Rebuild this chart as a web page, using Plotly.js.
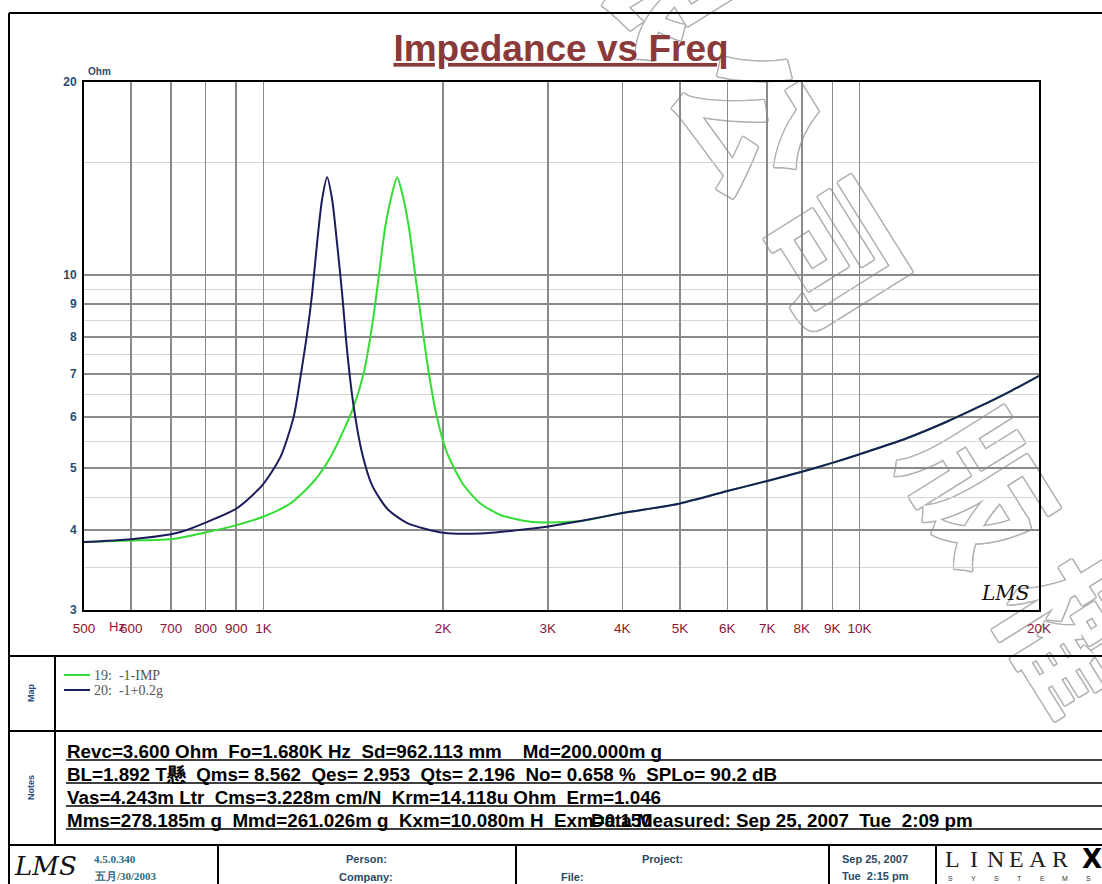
<!DOCTYPE html>
<html><head><meta charset="utf-8">
<script src="https://cdn.plot.ly/plotly-3.0.1.min.js"></script>
<style>html,body{margin:0;padding:0;background:#fff}</style>
</head><body><div id="chart" style="width:1102px;height:884px"></div>
<script>
// ---------------- data ----------------
const freqGreen = [500, 600, 700, 726, 796, 901, 996, 1110, 1214, 1296, 1364, 1417, 1473, 1521, 1561, 1601, 1644, 1676, 1709, 1753, 1799, 1846, 1894, 1956, 2033, 2167, 2312, 2498, 2803, 3006, 3405, 4000, 5000, 6000, 7000, 8000, 9000, 10000, 12000, 14000, 16000, 18000, 20000];
const zGreen    = [3.83, 3.85, 3.87, 3.89, 3.96, 4.07, 4.19, 4.40, 4.76, 5.20, 5.73, 6.23, 7.03, 8.31, 9.94, 11.9, 13.4, 14.2, 13.4, 11.9, 9.94, 8.31, 7.03, 5.98, 5.27, 4.70, 4.40, 4.22, 4.12, 4.11, 4.13, 4.25, 4.40, 4.60, 4.77, 4.93, 5.09, 5.25, 5.56, 5.90, 6.25, 6.60, 6.96];
const freqBlue  = [500, 600, 700, 726, 796, 901, 996, 1068, 1124, 1154, 1184, 1207, 1230, 1254, 1279, 1304, 1329, 1355, 1381, 1417, 1464, 1521, 1612, 1743, 2005, 2312, 2626, 3006, 3405, 4000, 5000, 6000, 7000, 8000, 9000, 10000, 12000, 14000, 16000, 18000, 20000];
const zBlue     = [3.83, 3.87, 3.94, 3.97, 4.10, 4.32, 4.70, 5.20, 6.01, 6.94, 8.11, 9.36, 11.2, 13.1, 14.2, 13.1, 11.2, 9.36, 7.64, 6.23, 5.27, 4.70, 4.32, 4.10, 3.96, 3.95, 3.99, 4.05, 4.13, 4.25, 4.40, 4.60, 4.77, 4.93, 5.09, 5.25, 5.56, 5.90, 6.25, 6.60, 6.96];
const seriesNames = ['19:  -1-IMP', '20:  -1+0.2g'];

const xTickVals = [500, 600, 700, 800, 900, 1000, 2000, 3000, 4000, 5000, 6000, 7000, 8000, 9000, 10000, 20000];
const xTickText = ['500', '600', '700', '800', '900', '1K', '2K', '3K', '4K', '5K', '6K', '7K', '8K', '9K', '10K', '20K'];
const yTickVals = [3, 4, 5, 6, 7, 8, 9, 10, 20];
const yTickText = ['3', '4', '5', '6', '7', '8', '9', '10', '20'];
const yMinorVals = [3.5, 4.5, 5.5, 6.5, 7.5, 8.5, 9.5, 15];

const notesLines = [
  'Revc=3.600 Ohm  Fo=1.680K Hz  Sd=962.113 mm    Md=200.000m g',
  'BL=1.892 T懸  Qms= 8.562  Qes= 2.953  Qts= 2.196  No= 0.658 %  SPLo= 90.2 dB',
  'Vas=4.243m Ltr  Cms=3.228m cm/N  Krm=14.118u Ohm  Erm=1.046',
  'Mms=278.185m g  Mmd=261.026m g  Kxm=10.080m H  Exm=0.150'
];
const measuredText = 'Data Measured: Sep 25, 2007  Tue  2:09 pm';
const watermarkChars = ['限', '公', '司', '版', '權'];

// ---------------- geometry helpers ----------------
const L = 84, T = 82, W = 955, H = 528, FW = 1102, FH = 884;
const px = x => (x - L) / W;
const py = y => (T + H - y) / H;
const shapes = [];
const annotations = [];
function seg(x0, y0, x1, y1, w, c) {
  shapes.push({type: 'line', xref: 'paper', yref: 'paper', x0: px(x0), y0: py(y0), x1: px(x1), y1: py(y1),
    line: {width: w, color: c || '#000'}});
}
function txt(x, y, text, font, opts) {
  annotations.push(Object.assign({xref: 'paper', yref: 'paper', x: px(x), y: py(y), text: text,
    showarrow: false, xanchor: 'left', yanchor: 'middle', borderpad: 0, font: font}, opts || {}));
}

// watermark (outlined characters, under the grid and curves)
const wmPos = [[650, -15], [737, 125], [822, 262], [968, 495], [1060, 642]];
const wmEdge = '#b0b0b0';
watermarkChars.forEach((ch, i) => {
  const [cx, cy] = wmPos[i];
  shapes.push({type: 'rect', xref: 'paper', yref: 'paper', layer: 'below',
    x0: px(cx - 5), x1: px(cx + 5), y0: py(cy + 5), y1: py(cy - 5),
    line: {width: 0}, fillcolor: 'rgba(0,0,0,0)',
    label: {text: ch, textangle: 58, textposition: 'middle center',
      font: {family: 'Noto Sans CJK TC', size: 140, color: '#ffffff', weight: 'bold',
        shadow: `1.5px 0 0 ${wmEdge}, -1.5px 0 0 ${wmEdge}, 0 1.5px 0 ${wmEdge}, 0 -1.5px 0 ${wmEdge}, 1px 1px 0 ${wmEdge}, -1px -1px 0 ${wmEdge}, 1px -1px 0 ${wmEdge}, -1px 1px 0 ${wmEdge}`}}});
});

// frame
seg(9, 13, FW, 13, 2);
seg(9, 13, 9, FH, 2);
seg(9, 656, FW, 656, 2);
seg(55, 656, 55, 845, 2);
seg(9, 731, FW, 731, 2);
seg(9, 845, FW, 845, 2);
[218, 516, 829, 936].forEach(x => seg(x, 845, x, FH, 2));

// map (legend)
const legendColors = ['#33dd33', '#1c1c5c'];
seriesNames.forEach((n, i) => {
  const y = 675 + i * 15;
  seg(64, y, 90, y, 2, legendColors[i]);
  txt(93, y, n, {family: 'Liberation Serif', size: 14, color: '#555'});
});
txt(31, 693, '<b>Map</b>', {family: 'Liberation Sans', size: 9, color: '#2b4c7a'}, {xanchor: 'center', textangle: -90});
txt(31, 788, '<b>Notes</b>', {family: 'Liberation Sans', size: 9, color: '#2b4c7a'}, {xanchor: 'center', textangle: -90});

// notes
const noteUnder = [760, 783, 806, 829];
notesLines.forEach((s, i) => {
  seg(66, noteUnder[i], FW, noteUnder[i], 1.6);
  txt(66, noteUnder[i] - 9, '<b>' + s + '</b>', {family: 'Liberation Sans', size: 18.8, color: '#000'});
});
txt(590, noteUnder[3] - 9, '<b>' + measuredText + '</b>', {family: 'Liberation Sans', size: 18.8, color: '#000'});

// footer
txt(45, 866, '<i>LMS</i>', {family: 'DejaVu Serif', size: 26, color: '#111'}, {xanchor: 'center'});
txt(93, 859, '<b>4.5.0.340</b>', {family: 'Liberation Serif', size: 11, color: '#2d6a7d'});
txt(93, 876, '<b>五月/30/2003</b>', {family: 'Liberation Serif', size: 11, color: '#2d6a7d'});
txt(366, 859, '<b>Person:</b>', {family: 'Liberation Sans Narrow, Liberation Sans', size: 11, color: '#2b4a66'}, {xanchor: 'center'});
txt(366, 877, '<b>Company:</b>', {family: 'Liberation Sans Narrow, Liberation Sans', size: 11, color: '#2b4a66'}, {xanchor: 'center'});
txt(662, 859, '<b>Project:</b>', {family: 'Liberation Sans Narrow, Liberation Sans', size: 11, color: '#2b4a66'}, {xanchor: 'center'});
txt(560, 877, '<b>File:</b>', {family: 'Liberation Sans Narrow, Liberation Sans', size: 11, color: '#2b4a66'});
txt(875, 859, '<b>Sep 25, 2007</b>', {family: 'Liberation Sans Narrow, Liberation Sans', size: 11, color: '#2b4a66'}, {xanchor: 'center'});
txt(875, 876, '<b>Tue  2:15 pm</b>', {family: 'Liberation Sans Narrow, Liberation Sans', size: 11, color: '#2b4a66'}, {xanchor: 'center'});
const linearLetters = ['L', 'I', 'N', 'E', 'A', 'R'];
linearLetters.forEach((ch, i) => txt(952 + i * 21.5, 859, ch, {family: 'Liberation Serif', size: 24, color: '#222'}, {xanchor: 'center'}));
txt(1092, 859, '<b>X</b>', {family: 'DejaVu Sans', size: 26, color: '#000'}, {xanchor: 'center'});
['S', 'Y', 'S', 'T', 'E', 'M', 'S'].forEach((ch, i) => txt(950 + i * 23, 878, ch, {family: 'Liberation Sans', size: 7, color: '#333'}, {xanchor: 'center'}));

// plot decorations
txt(87, 71, '<b>Ohm</b>', {family: 'Liberation Sans', size: 10, color: '#2b4c6f'});
txt(117, 626, 'Hz', {family: 'Liberation Sans', size: 13, color: '#8a1538'}, {xanchor: 'center'});
txt(1005, 593, '<i>LMS</i>', {family: 'DejaVu Serif', size: 20, color: '#111'}, {xanchor: 'center'});

const traces = [
  {x: freqGreen, y: zGreen, name: seriesNames[0], type: 'scatter', mode: 'lines', line: {color: legendColors[0], width: 2, shape: 'spline', smoothing: 0.7}},
  {x: freqBlue, y: zBlue, name: seriesNames[1], type: 'scatter', mode: 'lines', line: {color: legendColors[1], width: 2, shape: 'spline', smoothing: 0.7}}
];

const layout = {
  width: FW, height: FH,
  margin: {l: L, r: FW - L - W, t: T, b: FH - T - H, pad: 0},
  paper_bgcolor: '#fff', plot_bgcolor: '#fff',
  showlegend: false,
  title: {text: '<b>Impedance vs Freq</b>', x: 561 / FW, xanchor: 'center', y: 1 - 48 / FH, yanchor: 'middle',
    font: {family: 'Liberation Sans', size: 37, color: '#8b3a3a', lineposition: 'under'}},
  xaxis: {type: 'log', range: [Math.log10(500), Math.log10(20000)], tickvals: xTickVals, ticktext: xTickText,
    showgrid: true, gridcolor: '#8a8a8a', gridwidth: 1.5, showline: true, mirror: true, linecolor: '#000', linewidth: 2,
    ticks: '', zeroline: false, ticklabelstandoff: 5,
    tickfont: {family: 'Liberation Sans', size: 13.5, color: '#8a1538'}},
  yaxis: {type: 'log', range: [Math.log10(3), Math.log10(20)], tickvals: yTickVals, ticktext: yTickText,
    showgrid: true, gridcolor: '#8a8a8a', gridwidth: 1.5, showline: true, mirror: true, linecolor: '#000', linewidth: 2,
    ticks: '', zeroline: false, ticklabelstandoff: 3,
    minor: {tickvals: yMinorVals, showgrid: true, gridcolor: '#d4d4d4', gridwidth: 1, ticks: ''},
    tickfont: {family: 'Liberation Sans', size: 12, color: '#2b4c6f', weight: 'bold'}},
  shapes: shapes,
  annotations: annotations
};

Plotly.newPlot('chart', traces, layout, {displayModeBar: false, staticPlot: true});
</script></body></html>
